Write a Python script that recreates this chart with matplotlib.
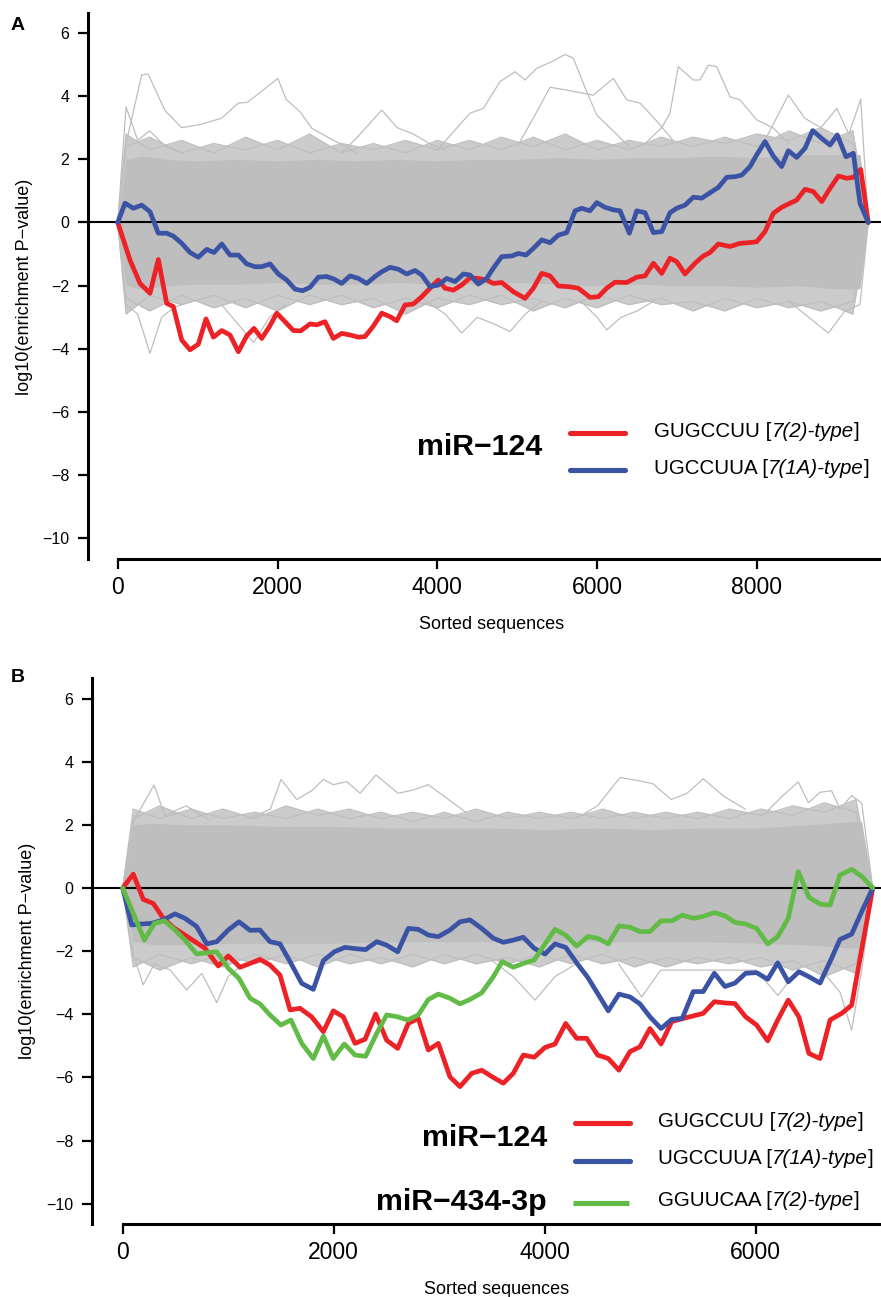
import matplotlib
matplotlib.use('Agg')
import matplotlib.pyplot as plt
from matplotlib.lines import Line2D

plt.rcParams['font.family'] = ['Liberation Sans', 'DejaVu Sans']

# ---------------- data: panel A ----------------
a_red_x = [0, 154, 279, 404, 508, 613, 696, 801, 905, 1009, 1105, 1197, 1302, 1405, 1510, 1614, 1706, 1802,
           1898, 1990, 2094, 2198, 2290, 2407, 2490, 2594, 2699, 2803, 2907, 3011, 3095, 3199, 3304, 3408,
           3492, 3596, 3700, 3805, 3909, 4013, 4096, 4200, 4305, 4409, 4513, 4618, 4700, 4806, 4951, 5098,
           5202, 5307, 5411, 5515, 5640, 5765, 5911, 6015, 6120, 6224, 6370, 6496, 6600, 6704, 6809, 6912,
           6996, 7100, 7225, 7329, 7413, 7517, 7663, 7788, 7892, 7997, 8101, 8205, 8310, 8414, 8498, 8602,
           8706, 8811, 8915, 9019, 9124, 9207, 9299, 9394]
a_red_y = [0, -1.19, -1.93, -2.24, -1.17, -2.56, -2.66, -3.72, -4.03, -3.85, -3.05, -3.63, -3.42, -3.56, -4.09,
           -3.59, -3.35, -3.67, -3.30, -2.87, -3.14, -3.42, -3.43, -3.21, -3.24, -3.14, -3.67, -3.51, -3.56,
           -3.63, -3.61, -3.28, -2.87, -2.98, -3.11, -2.61, -2.58, -2.35, -2.08, -1.82, -2.08, -2.14, -1.98,
           -1.75, -1.77, -1.82, -1.93, -1.90, -2.19, -2.40, -2.08, -1.61, -1.69, -2.01, -2.03, -2.08, -2.37,
           -2.35, -2.08, -1.89, -1.90, -1.73, -1.69, -1.29, -1.61, -1.13, -1.24, -1.63, -1.29, -1.06, -0.95,
           -0.68, -0.76, -0.66, -0.64, -0.61, -0.29, 0.29, 0.48, 0.61, 0.71, 1.05, 0.98, 0.66, 1.08, 1.47,
           1.40, 1.43, 1.68, 0]

a_blue_x = [0, 91, 196, 300, 404, 508, 613, 696, 801, 905, 1009, 1114, 1205, 1302, 1405, 1510, 1614, 1718,
            1802, 1906, 2010, 2115, 2219, 2315, 2407, 2511, 2616, 2707, 2803, 2907, 3011, 3116, 3220, 3304,
            3408, 3512, 3617, 3721, 3805, 3909, 4013, 4117, 4222, 4326, 4409, 4513, 4618, 4700, 4806, 4931,
            5014, 5110, 5202, 5307, 5411, 5515, 5620, 5724, 5807, 5911, 5995, 6099, 6203, 6287, 6403, 6496,
            6600, 6704, 6809, 6912, 6996, 7100, 7204, 7309, 7413, 7517, 7622, 7726, 7810, 7914, 7997, 8101,
            8205, 8310, 8393, 8498, 8602, 8698, 8811, 8915, 9006, 9115, 9207, 9290, 9394]
a_blue_y = [0, 0.61, 0.45, 0.55, 0.34, -0.34, -0.34, -0.43, -0.66, -0.95, -1.10, -0.85, -0.95, -0.68, -1.03,
            -1.03, -1.31, -1.40, -1.40, -1.31, -1.63, -1.82, -2.11, -2.16, -2.05, -1.73, -1.71, -1.79, -1.93,
            -1.69, -1.77, -1.93, -1.71, -1.56, -1.42, -1.48, -1.63, -1.52, -1.66, -2.03, -1.98, -1.77, -1.87,
            -1.63, -1.66, -1.95, -1.77, -1.45, -1.08, -1.06, -0.98, -1.03, -0.82, -0.55, -0.64, -0.40, -0.32,
            0.37, 0.45, 0.37, 0.63, 0.48, 0.40, 0.37, -0.34, 0.37, 0.31, -0.32, -0.29, 0.31, 0.45, 0.55, 0.80,
            0.77, 0.94, 1.11, 1.43, 1.45, 1.50, 1.77, 2.14, 2.56, 2.10, 1.77, 2.27, 2.06, 2.35, 2.91, 2.66,
            2.45, 2.77, 2.08, 2.19, 0.61, 0]

# background (gray) envelope, panel A
a_env_x = [0, 104, 300, 600, 1000, 1500, 2000, 2500, 3000, 3500, 4000, 4500, 5000, 5500, 6000, 6500, 7000,
           7500, 8000, 8500, 9000, 9290, 9394]
a_core_up = [0, 2.0, 2.1, 2.0, 1.95, 2.0, 1.95, 2.0, 1.95, 2.0, 1.95, 2.0, 2.0, 2.05, 2.0, 2.05, 2.05, 2.1,
             2.05, 2.15, 2.15, 2.15, 0]
a_core_lo = [0, -2.0, -2.1, -2.0, -1.95, -1.95, -1.9, -1.95, -1.95, -1.9, -1.95, -1.95, -1.9, -1.95, -2.0,
             -1.95, -2.0, -2.0, -2.05, -2.0, -2.1, -2.1, 0]
a_fringe_x = [0, 104, 400, 800, 1200, 1600, 2000, 2400, 2800, 3200, 3600, 4000, 4400, 4800, 5200, 5600, 6000,
              6400, 6800, 7200, 7600, 8000, 8400, 8800, 9200, 9394]
a_fringe = [
    [0, 2.8, 2.3, 2.6, 2.2, 2.7, 2.3, 2.8, 2.2, 2.5, 2.2, 2.6, 2.3, 2.7, 2.4, 2.8, 2.3, 2.6, 2.4, 2.7, 2.5,
     2.8, 2.6, 3.0, 2.5, 0],
    [0, 2.4, 2.7, 2.2, 2.5, 2.3, 2.6, 2.2, 2.5, 2.3, 2.6, 2.3, 2.6, 2.3, 2.7, 2.3, 2.6, 2.3, 2.7, 2.4, 2.7,
     2.4, 2.9, 2.5, 2.9, 0],
    [0, -2.4, -2.8, -2.3, -2.7, -2.4, -2.8, -2.3, -2.6, -2.4, -2.9, -2.4, -2.6, -2.3, -2.8, -2.4, -2.7, -2.3,
     -2.6, -2.5, -2.8, -2.4, -2.7, -2.5, -2.9, 0],
    [0, -2.9, -2.3, -2.6, -2.3, -2.7, -2.3, -2.6, -2.3, -2.7, -2.4, -2.7, -2.3, -2.6, -2.4, -2.7, -2.3, -2.6,
     -2.4, -2.8, -2.4, -2.7, -2.5, -2.8, -2.5, 0],
]
a_outliers = [
    ([0, 104, 300, 380, 590, 800, 1030, 1300, 1510, 1620, 1825, 2004, 2107, 2283, 2430, 2700, 3000],
     [0, 2.5, 4.67, 4.7, 3.55, 3.0, 3.1, 3.3, 3.78, 3.8, 4.2, 4.56, 3.9, 3.5, 2.98, 2.6, 2.2]),
    ([0, 104, 250, 400, 600, 800], [0, 3.66, 2.6, 2.9, 2.4, 2.2]),
    ([2800, 3000, 3304, 3500, 3700, 3900, 4100], [2.2, 2.7, 3.56, 3.0, 2.8, 2.5, 2.3]),
    ([4000, 4410, 4576, 4785, 4973, 5098, 5244, 5432, 5598, 5702, 5870, 5995, 6200, 6400],
     [2.3, 3.46, 3.61, 4.46, 4.77, 4.51, 4.88, 5.09, 5.32, 5.2, 4.14, 3.4, 2.9, 2.4]),
    ([5000, 5200, 5411, 5620, 5953, 6203, 6370, 6537, 6750, 6950],
     [2.4, 3.3, 4.28, 4.19, 4.03, 4.56, 3.88, 3.78, 3.2, 2.6]),
    ([6600, 6809, 6912, 7016, 7204, 7288, 7392, 7497, 7663, 7788, 7997, 8200, 8400],
     [2.5, 3.0, 3.46, 4.93, 4.51, 4.51, 4.98, 4.93, 3.98, 3.88, 3.25, 3.0, 2.5]),
    ([8100, 8393, 8600, 8800, 9000, 9150, 9299, 9394], [2.6, 4.03, 3.3, 3.0, 3.61, 2.8, 3.9, 0]),
    ([0, 104, 250, 404, 550, 700, 900], [0, -2.6, -2.9, -4.14, -3.0, -2.7, -2.5]),
    ([1300, 1500, 1700, 1900, 2100], [-2.6, -3.2, -3.8, -3.0, -2.6]),
    ([3800, 4100, 4305, 4500, 4700, 4910, 5100, 5300], [-2.4, -2.9, -3.5, -3.0, -3.2, -3.45, -2.9, -2.5]),
    ([5800, 6000, 6120, 6300, 6500, 6700], [-2.5, -3.0, -3.4, -3.0, -2.8, -2.5]),
    ([8400, 8600, 8894, 9100, 9290, 9394], [-2.5, -2.9, -3.5, -2.8, -2.6, 0]),
]

# ---------------- data: panel B ----------------
b_red_x = [0, 100, 195, 290, 385, 480, 590, 685, 780, 906, 1001, 1112, 1207, 1301, 1396, 1491, 1586, 1681,
           1791, 1902, 1996, 2091, 2202, 2297, 2398, 2502, 2607, 2707, 2802, 2897, 2992, 3102, 3197, 3308,
           3403, 3513, 3608, 3702, 3797, 3901, 4003, 4098, 4199, 4303, 4398, 4502, 4603, 4704, 4809, 4903,
           4998, 5103, 5204, 5314, 5409, 5503, 5608, 5709, 5804, 5905, 6009, 6114, 6209, 6309, 6410, 6505,
           6610, 6705, 6815, 6910, 7110]
b_red_y = [0, 0.44, -0.36, -0.49, -0.96, -1.25, -1.49, -1.70, -1.91, -2.47, -2.15, -2.51, -2.39, -2.26, -2.44,
           -2.76, -3.86, -3.81, -4.08, -4.55, -3.89, -4.08, -4.92, -4.79, -3.99, -4.82, -5.08, -4.29, -4.13,
           -5.13, -4.92, -5.98, -6.29, -5.87, -5.77, -6.00, -6.18, -5.87, -5.29, -5.36, -5.05, -4.94, -4.29,
           -4.76, -4.76, -5.29, -5.40, -5.77, -5.18, -5.03, -4.45, -4.94, -4.23, -4.13, -4.05, -3.97, -3.60,
           -3.64, -3.66, -4.08, -4.34, -4.84, -4.18, -3.55, -4.08, -5.24, -5.40, -4.18, -3.97, -3.71, 0]

b_blue_x = [0, 85, 180, 275, 385, 496, 590, 701, 796, 891, 1001, 1102, 1207, 1301, 1396, 1491, 1586, 1697,
            1807, 1902, 2006, 2107, 2202, 2303, 2408, 2502, 2607, 2707, 2802, 2897, 2992, 3102, 3197, 3292,
            3403, 3513, 3608, 3702, 3797, 3901, 4003, 4098, 4199, 4303, 4408, 4502, 4603, 4704, 4809, 4903,
            4998, 5103, 5204, 5304, 5409, 5503, 5608, 5709, 5804, 5905, 6009, 6114, 6209, 6309, 6410, 6505,
            6610, 6705, 6799, 6910, 7005, 7110]
b_blue_y = [0, -1.17, -1.14, -1.12, -1.01, -0.82, -0.96, -1.22, -1.77, -1.70, -1.33, -1.07, -1.34, -1.33,
            -1.70, -1.77, -2.33, -3.02, -3.21, -2.30, -2.02, -1.88, -1.92, -1.95, -1.70, -1.81, -2.02, -1.28,
            -1.31, -1.49, -1.54, -1.33, -1.07, -1.01, -1.28, -1.59, -1.72, -1.65, -1.56, -1.91, -2.09, -1.77,
            -1.88, -2.37, -2.83, -3.34, -3.89, -3.36, -3.45, -3.67, -4.08, -4.45, -4.16, -4.13, -3.28, -3.28,
            -2.70, -3.12, -3.01, -2.70, -2.68, -2.89, -2.37, -2.97, -2.65, -2.81, -3.01, -2.33, -1.63, -1.46,
            -0.75, 0]

b_green_x = [0, 100, 205, 300, 395, 496, 590, 701, 796, 891, 1001, 1102, 1207, 1301, 1396, 1500, 1595, 1697,
             1807, 1902, 1996, 2101, 2202, 2303, 2408, 2502, 2607, 2701, 2802, 2897, 2992, 3102, 3197, 3292,
             3403, 3513, 3598, 3702, 3797, 3901, 4003, 4098, 4199, 4303, 4408, 4502, 4603, 4704, 4809, 4903,
             4998, 5103, 5204, 5304, 5409, 5503, 5608, 5709, 5804, 5905, 6009, 6114, 6209, 6309, 6404, 6505,
             6610, 6705, 6799, 6910, 7005, 7110]
b_green_y = [0, -0.80, -1.65, -1.12, -1.04, -1.33, -1.65, -2.09, -2.05, -2.02, -2.54, -2.86, -3.49, -3.67,
             -4.02, -4.34, -4.18, -4.92, -5.40, -4.69, -5.40, -4.94, -5.29, -5.33, -4.60, -4.02, -4.08, -4.18,
             -4.02, -3.53, -3.36, -3.49, -3.67, -3.53, -3.32, -2.81, -2.33, -2.51, -2.39, -2.28, -1.77, -1.31,
             -1.49, -1.84, -1.54, -1.59, -1.77, -1.20, -1.24, -1.38, -1.38, -1.04, -1.04, -0.86, -0.96, -0.90,
             -0.78, -0.88, -1.09, -1.14, -1.28, -1.77, -1.54, -0.96, 0.52, -0.30, -0.51, -0.54, 0.41, 0.59,
             0.37, 0]

b_env_x = [0, 100, 300, 600, 1000, 1500, 2000, 2500, 3000, 3500, 4000, 4500, 5000, 5500, 6000, 6500, 6900,
           7005, 7110]
b_core_up = [0, 2.0, 2.05, 2.0, 2.0, 1.95, 1.95, 1.9, 1.9, 1.9, 1.85, 1.9, 1.85, 1.9, 1.9, 2.0, 2.1, 2.1, 0]
b_core_lo = [0, -1.7, -1.8, -1.8, -1.75, -1.75, -1.75, -1.7, -1.7, -1.7, -1.7, -1.7, -1.7, -1.7, -1.75,
             -1.8, -1.9, -1.9, 0]
b_fringe_x = [0, 100, 350, 650, 950, 1250, 1550, 1850, 2150, 2450, 2750, 3050, 3350, 3650, 3950, 4250, 4550,
              4850, 5150, 5450, 5750, 6050, 6350, 6650, 6950, 7110]
b_fringe = [
    [0, 2.2, 2.6, 2.2, 2.5, 2.2, 2.6, 2.3, 2.5, 2.2, 2.4, 2.2, 2.5, 2.2, 2.4, 2.2, 2.5, 2.2, 2.4, 2.2, 2.5,
     2.3, 2.6, 2.4, 2.8, 0],
    [0, 2.5, 2.2, 2.5, 2.2, 2.4, 2.2, 2.5, 2.2, 2.4, 2.1, 2.4, 2.1, 2.4, 2.2, 2.4, 2.2, 2.4, 2.2, 2.4, 2.2,
     2.5, 2.3, 2.7, 2.4, 0],
    [0, -2.2, -2.6, -2.2, -2.5, -2.1, -2.4, -2.1, -2.4, -2.2, -2.5, -2.1, -2.4, -2.2, -2.5, -2.1, -2.4, -2.2,
     -2.5, -2.2, -2.4, -2.2, -2.6, -2.3, -2.7, 0],
    [0, -2.5, -2.1, -2.4, -2.1, -2.4, -2.1, -2.5, -2.1, -2.4, -2.1, -2.4, -2.1, -2.4, -2.1, -2.4, -2.1, -2.5,
     -2.2, -2.4, -2.2, -2.5, -2.3, -2.8, -2.4, 0],
]
b_outliers = [
    ([0, 100, 297, 400, 600, 800], [0, 2.1, 3.26, 2.3, 2.6, 2.2]),
    ([1200, 1400, 1501, 1650, 1800, 1902, 1996, 2124, 2250, 2401, 2610, 2750, 2896, 3050, 3250],
     [2.2, 2.5, 3.44, 2.8, 3.1, 3.44, 3.27, 3.37, 3.0, 3.58, 3.0, 3.1, 3.27, 2.9, 2.4]),
    ([4300, 4500, 4714, 4919, 5027, 5200, 5350, 5503, 5700, 5900],
     [2.2, 2.6, 3.5, 3.38, 3.3, 2.8, 3.0, 3.46, 2.9, 2.5]),
    ([6100, 6250, 6404, 6500, 6610, 6720, 6800, 6910, 7005, 7110],
     [2.4, 2.9, 3.36, 2.7, 3.03, 3.08, 2.5, 2.93, 2.69, 0]),
    ([0, 100, 195, 300, 450, 607, 750, 891, 1000, 1150],
     [0, -2.1, -3.07, -2.4, -2.6, -3.23, -2.7, -3.63, -2.8, -2.4]),
    ([3500, 3700, 3908, 4100, 4300], [-2.3, -2.8, -3.55, -2.8, -2.4]),
    ([4700, 4919, 5100, 6000, 6211, 6400], [-2.4, -3.45, -2.6, -2.6, -3.4, -2.6]),
    ([6600, 6800, 6910, 7005, 7110], [-2.5, -3.3, -4.5, -2.6, 0]),
]

a_xticks = [0, 2000, 4000, 6000, 8000]
b_xticks = [0, 2000, 4000, 6000]
yticks = [-10, -8, -6, -4, -2, 0, 2, 4, 6]

RED = '#EC2227'
BLUE = '#3B53A4'
GREEN = '#62BB46'
GRAY = '#BEBEBE'

W, H = 881, 1297
fig = plt.figure(figsize=(W / 100, H / 100), dpi=100)


def px_ax(l, t, r, b):
    return [l / W, 1 - b / H, (r - l) / W, (b - t) / H]


axA = fig.add_axes(px_ax(88, 13, 881, 559))
axB = fig.add_axes(px_ax(92, 678, 881, 1224))


def style(ax, xlim, ylim, xticks):
    ax.set_xlim(xlim)
    ax.set_ylim(ylim)
    for s in ['top', 'right']:
        ax.spines[s].set_visible(False)
    for s in ['left', 'bottom']:
        ax.spines[s].set_linewidth(2.2)
    ax.spines['bottom'].set_bounds(0, xlim[1])
    ax.set_xticks(xticks)
    ax.set_yticks(yticks)
    ax.tick_params(axis='both', direction='out', length=7.5, width=1.6)
    ax.tick_params(axis='y', labelsize=11.5, pad=6)
    ax.tick_params(axis='x', labelsize=16.5, pad=5)


def background(ax, ex, cu, cl, fx, fringe, outliers):
    for fy in fringe:
        ax.fill_between(fx, 0, fy, color='#cbcbcb', lw=0, zorder=1)
    for fy in fringe:
        ax.plot(fx, fy, color=GRAY, lw=0.9, zorder=1.1)
    ax.fill_between(ex, cl, cu, color=GRAY, lw=0, zorder=1.5)
    for xs, ys in outliers:
        ax.plot(xs, ys, color=GRAY, lw=0.9, zorder=1.2)


def series(ax, x, y, c):
    ax.plot(x, y, color=c, lw=3.4, solid_capstyle='round', solid_joinstyle='round', zorder=3)


style(axA, (-372, 9553), (-10.65, 6.63), a_xticks)
background(axA, a_env_x, a_core_up, a_core_lo, a_fringe_x, a_fringe, a_outliers)
axA.axhline(0, color='black', lw=1.5, zorder=2)
series(axA, a_red_x, a_red_y, RED)
series(axA, a_blue_x, a_blue_y, BLUE)

style(axB, (-291, 7188), (-10.64, 6.65), b_xticks)
background(axB, b_env_x, b_core_up, b_core_lo, b_fringe_x, b_fringe, b_outliers)
axB.axhline(0, color='black', lw=1.5, zorder=2)
series(axB, b_red_x, b_red_y, RED)
series(axB, b_blue_x, b_blue_y, BLUE)
series(axB, b_green_x, b_green_y, GREEN)


def ftext(x, y, s, **kw):
    return fig.text(x / W, 1 - y / H, s, **kw)


# panel letters, axis labels
ftext(18, 25, 'A', fontsize=14, fontweight='bold', ha='center', va='center')
ftext(18, 678, 'B', fontsize=14, fontweight='bold', ha='center', va='center')
ftext(25, 287, 'log10(enrichment P\u2212value)', fontsize=13, rotation=90, ha='center', va='center')
ftext(28, 951, 'log10(enrichment P\u2212value)', fontsize=13, rotation=90, ha='center', va='center')
ftext(492, 625, 'Sorted sequences', fontsize=13, ha='center', va='center')
ftext(497, 1289, 'Sorted sequences', fontsize=13, ha='center', va='center')

# legend blocks
ftext(542, 455, 'miR\u2212124', fontsize=21.8, fontweight='bold', ha='right', va='baseline')
ftext(547, 1146, 'miR\u2212124', fontsize=21.8, fontweight='bold', ha='right', va='baseline')
ftext(547, 1210.5, 'miR\u2212434-3p', fontsize=21.8, fontweight='bold', ha='right', va='baseline')


def legline(x1, x2, y, c, cap='round'):
    off = 2.5 if cap == 'round' else 0
    fig.add_artist(Line2D([(x1 + off) / W, (x2 - off) / W], [1 - y / H, 1 - y / H], color=c, lw=3.7,
                          solid_capstyle=cap, transform=fig.transFigure))


legline(567, 627, 432.7, RED)
legline(567, 627, 470.3, BLUE)
legline(572, 632, 1123.3, RED)
legline(572, 632, 1161, BLUE)
legline(573, 629, 1203.3, GREEN, cap='butt')

renderer = fig.canvas.get_renderer()


def rich(x, y, parts, size=14.8):
    cur = x
    for s, st in parts:
        t = ftext(cur, y, s, fontsize=size, fontstyle=st, ha='left', va='baseline')
        bb = t.get_window_extent(renderer)
        cur += bb.width


rich(654, 436.7, [('GUGCCUU [', 'normal'), ('7(2)-type', 'italic'), (']', 'normal')])
rich(654, 474.3, [('UGCCUUA [', 'normal'), ('7(1A)-type', 'italic'), (']', 'normal')])
rich(658, 1126.7, [('GUGCCUU [', 'normal'), ('7(2)-type', 'italic'), (']', 'normal')])
rich(658, 1164.3, [('UGCCUUA [', 'normal'), ('7(1A)-type', 'italic'), (']', 'normal')])
rich(658, 1206, [('GGUUCAA [', 'normal'), ('7(2)-type', 'italic'), (']', 'normal')])

fig.savefig('out.png', dpi=100)
